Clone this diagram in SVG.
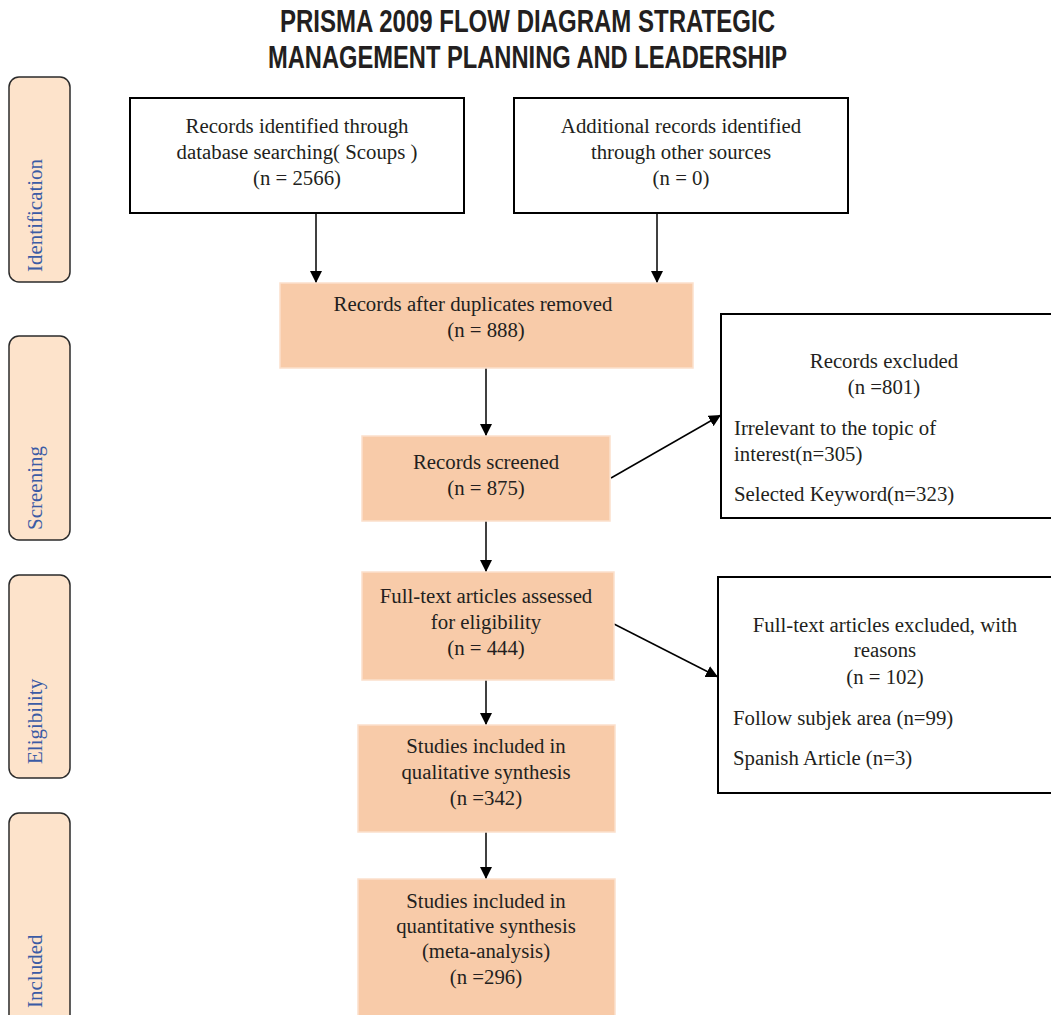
<svg xmlns="http://www.w3.org/2000/svg" width="1051" height="1015" viewBox="0 0 1051 1015">
  <defs>
    <marker id="arrow" viewBox="0 0 10 10" refX="10" refY="5" markerWidth="12" markerHeight="12" markerUnits="userSpaceOnUse" orient="auto">
      <path d="M0,0 L10,5 L0,10 Z" fill="#000"/>
    </marker>
  </defs>
  <style>
    .title { font-family: "Liberation Sans", Arial, sans-serif; font-weight: bold; font-size: 31px; fill: #231f20; }
    .t { font-family: "Liberation Serif", "Times New Roman", serif; font-size: 20.8px; fill: #231f20; }
    .c { text-anchor: middle; }
    .phase rect { fill: #fde3cb; stroke: #2b2b2b; stroke-width: 1.5; }
    .phase text { font-family: "Liberation Serif", "Times New Roman", serif; font-size: 21px; fill: #3b5ba5; }
    .white { fill: #fff; stroke: #000; stroke-width: 2; }
    .peach { fill: #f8cba9; stroke: #fbe0cc; stroke-width: 1.5; }
    .conn line { stroke: #000; stroke-width: 1.5; marker-end: url(#arrow); }
  </style>

  <rect width="1051" height="1015" fill="#fff"/>

  <!-- heading -->
  <text class="title" x="280" y="32" textLength="495" lengthAdjust="spacingAndGlyphs">PRISMA 2009 FLOW DIAGRAM STRATEGIC</text>
  <text class="title" x="268" y="68" textLength="519" lengthAdjust="spacingAndGlyphs">MANAGEMENT PLANNING AND LEADERSHIP</text>

  <!-- phase labels -->
  <g id="phase-identification" class="phase">
    <rect x="9" y="77" width="61" height="205" rx="10"/>
    <text transform="translate(42,272) rotate(-90)">Identification</text>
  </g>
  <g id="phase-screening" class="phase">
    <rect x="9" y="336" width="61" height="204" rx="10"/>
    <text transform="translate(42,530) rotate(-90)">Screening</text>
  </g>
  <g id="phase-eligibility" class="phase">
    <rect x="9" y="575" width="61" height="203" rx="10"/>
    <text transform="translate(42,764) rotate(-90)">Eligibility</text>
  </g>
  <g id="phase-included" class="phase">
    <rect x="9" y="813" width="61" height="220" rx="10"/>
    <text transform="translate(42,1008) rotate(-90)">Included</text>
  </g>

  <!-- connectors -->
  <g id="connectors" class="conn">
    <line x1="316" y1="213" x2="316" y2="283"/>
    <line x1="657" y1="213" x2="657" y2="283"/>
    <line x1="486" y1="368" x2="486" y2="436"/>
    <line x1="611" y1="478" x2="721" y2="415"/>
    <line x1="486" y1="521" x2="486" y2="572"/>
    <line x1="614" y1="624" x2="718" y2="677"/>
    <line x1="486" y1="680" x2="486" y2="725"/>
    <line x1="486" y1="832" x2="486" y2="879"/>
  </g>

  <!-- nodes -->
  <g id="node-database">
    <rect class="white" x="130" y="98" width="334" height="115"/>
    <text class="t c" x="297" y="133">Records identified through</text>
    <text class="t c" x="297" y="159">database searching( Scoups )</text>
    <text class="t c" x="297" y="185">(n = 2566)</text>
  </g>
  <g id="node-other-sources">
    <rect class="white" x="514" y="98" width="334" height="115"/>
    <text class="t c" x="681" y="133">Additional records identified</text>
    <text class="t c" x="681" y="159">through other sources</text>
    <text class="t c" x="681" y="185">(n = 0)</text>
  </g>
  <g id="node-duplicates">
    <rect class="peach" x="280" y="283" width="413" height="85"/>
    <text class="t c" x="473" y="311">Records after duplicates removed</text>
    <text class="t c" x="486" y="337">(n = 888)</text>
  </g>
  <g id="node-screened">
    <rect class="peach" x="362" y="436" width="248" height="85"/>
    <text class="t c" x="486" y="469">Records screened</text>
    <text class="t c" x="486" y="495">(n = 875)</text>
  </g>
  <g id="node-records-excluded">
    <rect class="white" x="721" y="314" width="332" height="204"/>
    <text class="t c" x="884" y="368">Records excluded</text>
    <text class="t c" x="884" y="394">(n =801)</text>
    <text class="t" x="734" y="435">Irrelevant to the topic of</text>
    <text class="t" x="734" y="461">interest(n=305)</text>
    <text class="t" x="734" y="501">Selected Keyword(n=323)</text>
  </g>
  <g id="node-fulltext">
    <rect class="peach" x="362" y="572" width="252" height="108"/>
    <text class="t c" x="486" y="603">Full-text articles assessed</text>
    <text class="t c" x="486" y="629">for eligibility</text>
    <text class="t c" x="486" y="655">(n = 444)</text>
  </g>
  <g id="node-fulltext-excluded">
    <rect class="white" x="718" y="577" width="335" height="216"/>
    <text class="t c" x="885" y="632">Full-text articles excluded, with</text>
    <text class="t c" x="885" y="657">reasons</text>
    <text class="t c" x="885" y="684">(n = 102)</text>
    <text class="t" x="733" y="725">Follow subjek area (n=99)</text>
    <text class="t" x="733" y="765">Spanish Article (n=3)</text>
  </g>
  <g id="node-qualitative">
    <rect class="peach" x="358" y="725" width="257" height="107"/>
    <text class="t c" x="486" y="753">Studies included in</text>
    <text class="t c" x="486" y="779">qualitative synthesis</text>
    <text class="t c" x="486" y="805">(n =342)</text>
  </g>
  <g id="node-quantitative">
    <rect class="peach" x="358" y="879" width="257" height="150"/>
    <text class="t c" x="486" y="908">Studies included in</text>
    <text class="t c" x="486" y="933">quantitative synthesis</text>
    <text class="t c" x="486" y="958">(meta-analysis)</text>
    <text class="t c" x="486" y="984">(n =296)</text>
  </g>
</svg>
